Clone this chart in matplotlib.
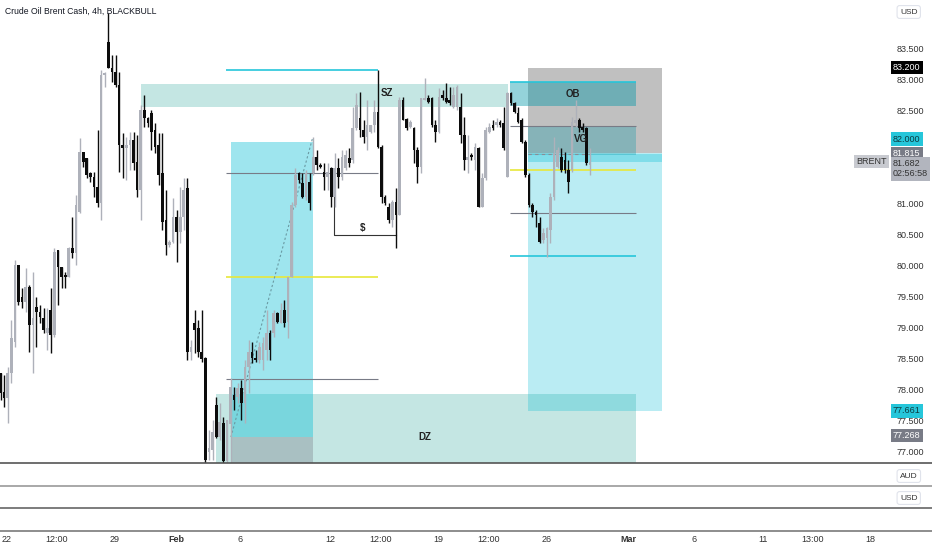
import numpy as np
import matplotlib.pyplot as plt
import matplotlib.transforms as mtransforms
from matplotlib.lines import Line2D
from matplotlib.patches import Rectangle

plt.rcParams['font.family'] = ['Liberation Sans Narrow', 'Liberation Sans', 'DejaVu Sans']

# 4h candles, Brent
opens = [78.27, 77.97, 77.87, 78.27, 78.77, 80.02, 79.50, 79.42, 79.66, 79.05,
         79.34, 79.26, 79.16, 78.92, 79.29, 78.89, 80.26, 79.98, 79.85, 79.82,
         80.29, 80.21, 80.87, 81.84, 81.74, 81.50, 81.44, 81.27, 81.02, 83.08,
         83.61, 83.19, 83.13, 82.92, 81.95, 81.90, 81.95, 82.03, 81.68, 81.23,
         82.52, 82.39, 82.47, 82.19, 81.95, 81.50, 80.74, 80.34, 80.39, 80.79,
         80.55, 80.79, 81.26, 78.61, 79.08, 79.00, 78.61, 78.52, 77.00, 77.03,
         77.76, 77.24, 77.47, 76.85, 77.45, 77.92, 77.89, 78.03, 77.79, 78.37,
         78.61, 78.52, 78.48, 78.48, 78.65, 78.92, 78.92, 79.24, 79.08, 79.29,
         79.10, 79.82, 80.98, 81.50, 81.34, 81.11, 81.35, 81.50, 81.76, 81.63,
         81.52, 81.44, 81.58, 81.11, 81.58, 81.44, 81.58, 81.74, 81.71, 82.23,
         82.39, 82.19, 82.08, 82.16, 82.27, 82.48, 81.92, 81.11, 80.95, 80.74,
         81.03, 80.82, 82.68, 82.37, 82.24, 82.23, 81.87, 81.60, 82.68, 82.71,
         82.71, 82.27, 82.16, 82.76, 82.71, 82.68, 82.56, 82.56, 82.56, 82.11,
         81.71, 81.79, 81.71, 81.90, 80.95, 81.42, 82.16, 82.27, 82.27, 82.32,
         82.31, 81.44, 82.79, 82.63, 82.47, 82.35, 82.00, 81.47, 80.98, 80.87,
         80.69, 80.42, 80.45, 80.58, 81.11, 81.60, 81.76, 81.71, 81.55, 81.55,
         82.31, 82.35, 82.24, 82.23, 81.63]
highs = [78.27, 78.24, 78.37, 79.13, 80.10, 80.02, 79.64, 79.97, 79.69, 79.90,
         79.50, 79.37, 79.32, 79.32, 79.64, 80.29, 80.26, 79.98, 79.90, 80.31,
         80.79, 81.14, 82.06, 81.84, 81.74, 81.52, 81.52, 82.19, 83.16, 83.13,
         84.08, 83.40, 83.40, 83.13, 82.14, 82.08, 82.16, 82.16, 82.11, 82.60,
         82.76, 82.40, 82.52, 82.31, 82.14, 82.14, 81.23, 80.42, 81.10, 80.90,
         81.27, 81.42, 81.42, 78.81, 79.29, 79.13, 79.29, 78.53, 77.35, 77.52,
         77.89, 77.79, 77.56, 77.52, 78.19, 78.05, 78.11, 78.16, 78.48, 78.81,
         78.77, 78.65, 78.77, 78.85, 79.29, 78.97, 79.29, 79.26, 79.40, 79.45,
         79.82, 81.03, 81.58, 81.52, 81.50, 81.55, 81.50, 82.08, 81.87, 81.66,
         81.66, 81.66, 81.60, 81.82, 81.74, 81.87, 81.87, 81.90, 82.56, 82.79,
         82.81, 82.35, 82.68, 82.27, 82.68, 83.16, 81.95, 81.14, 81.02, 81.06,
         81.26, 82.73, 82.73, 82.39, 82.35, 82.24, 81.92, 82.71, 83.03, 82.76,
         82.73, 82.35, 82.87, 82.84, 82.95, 82.89, 82.89, 82.92, 82.79, 82.40,
         82.11, 81.82, 81.98, 81.92, 81.50, 82.24, 82.31, 82.35, 82.39, 82.35,
         82.56, 82.81, 82.81, 82.65, 82.56, 82.39, 82.03, 81.50, 81.02, 80.90,
         80.79, 80.61, 80.63, 81.18, 82.08, 81.92, 81.90, 81.84, 81.71, 82.40,
         82.68, 82.39, 82.31, 82.24, 81.90]
lows = [77.84, 77.73, 77.47, 78.11, 78.69, 79.37, 79.32, 79.26, 78.61, 78.27,
        78.69, 79.08, 78.92, 78.64, 78.60, 78.85, 79.37, 79.64, 79.64, 79.82,
        80.13, 80.02, 80.85, 81.60, 81.42, 81.35, 81.11, 80.95, 80.74, 82.89,
        83.19, 82.97, 82.89, 81.52, 81.42, 81.39, 81.55, 81.55, 81.11, 80.74,
        82.24, 82.24, 81.87, 81.82, 81.31, 80.58, 80.18, 80.31, 80.37, 80.06,
        80.37, 80.58, 78.48, 78.48, 78.60, 78.53, 78.45, 76.82, 76.87, 76.87,
        77.23, 77.19, 76.80, 76.80, 76.80, 77.68, 77.79, 77.52, 77.47, 77.95,
        78.44, 78.45, 78.44, 78.32, 78.48, 78.48, 78.85, 79.08, 79.08, 79.02,
        78.84, 79.82, 80.95, 81.34, 81.10, 81.06, 80.90, 81.47, 81.55, 81.58,
        81.23, 81.23, 80.95, 80.95, 81.26, 81.39, 81.55, 81.60, 81.66, 82.19,
        82.08, 81.98, 81.87, 82.15, 82.16, 81.90, 81.02, 80.98, 80.69, 80.63,
        80.29, 80.82, 82.35, 82.19, 82.23, 81.66, 81.34, 81.50, 82.68, 82.63,
        82.24, 82.00, 82.15, 82.68, 82.63, 82.60, 82.55, 82.52, 81.98, 81.55,
        81.50, 81.71, 81.55, 80.95, 80.95, 81.39, 82.15, 82.19, 82.24, 82.24,
        81.87, 81.44, 82.60, 82.47, 82.31, 81.98, 81.44, 80.95, 80.79, 80.63,
        80.37, 80.37, 80.14, 80.37, 81.06, 81.58, 81.52, 81.50, 81.18, 81.52,
        82.24, 82.16, 82.16, 81.63, 81.47]
closes = [77.95, 77.87, 78.27, 78.84, 80.02, 79.42, 79.42, 79.66, 79.05, 79.16,
          79.26, 79.18, 78.97, 79.00, 78.89, 80.23, 79.98, 79.82, 79.82, 80.29,
          80.21, 80.98, 81.84, 81.68, 81.47, 81.44, 81.27, 81.02, 83.08, 83.11,
          83.19, 83.13, 82.92, 81.95, 81.90, 81.95, 82.03, 81.66, 81.23, 82.52,
          82.39, 82.31, 82.16, 81.92, 81.47, 80.71, 80.34, 80.39, 80.79, 80.55,
          80.79, 81.23, 78.61, 78.69, 78.97, 78.61, 78.50, 76.87, 77.06, 77.32,
          77.24, 77.48, 76.85, 77.52, 78.05, 77.84, 78.03, 77.79, 78.37, 78.61,
          78.52, 78.48, 78.69, 78.76, 78.92, 78.65, 79.24, 79.10, 79.29, 79.08,
          79.82, 80.98, 81.47, 81.39, 81.11, 81.50, 81.02, 81.76, 81.63, 81.60,
          81.44, 81.52, 81.11, 81.58, 81.44, 81.76, 81.79, 81.66, 82.23, 82.60,
          82.19, 82.08, 82.27, 82.27, 82.48, 81.92, 81.11, 81.02, 80.74, 81.03,
          80.82, 82.68, 82.35, 82.23, 82.32, 81.87, 81.60, 82.71, 82.71, 82.65,
          82.27, 82.16, 82.73, 82.71, 82.65, 82.63, 82.76, 82.89, 82.11, 81.71,
          81.76, 81.76, 81.92, 80.95, 81.42, 82.19, 82.24, 82.23, 82.32, 82.27,
          81.90, 82.79, 82.63, 82.48, 82.32, 82.00, 81.47, 80.98, 80.87, 80.82,
          80.39, 80.53, 80.61, 81.11, 81.82, 81.87, 81.55, 81.55, 81.35, 82.32,
          82.35, 82.23, 82.19, 81.66, 81.68]

# time axis labels (bar index positions)
tick_pos = [1.8, 15.7, 31.6, 48.8, 66.6, 91.7, 105.8, 121.7, 135.9, 152.0,
            174.8, 192.9, 212.1, 226.0, 241.9]
tick_lab = ['22', '12:00', '29', 'Feb', '6', '12', '12:00', '19', '12:00', '26',
            'Mar', '6', '11', '13:00', '18']
price_ticks = [77.0, 77.5, 78.0, 78.5, 79.0, 79.5, 80.0, 80.5, 81.0, 82.5, 83.0, 83.5]

# drawings
sz_zone = [39.1, 141.2, 82.56, 82.94]
dz_zone = [59.9, 176.8, 76.0, 77.94]
long_x = [64.1, 86.9]
long_entry, long_target = 77.24, 82.00
short_x = [146.7, 184.0]
short_stop, short_entry, short_target = 83.20, 81.815, 77.661
ob_zone = [141.7, 176.8, 82.58, 82.97]
fvg_zone = [146.7, 176.8, 81.79, 82.26]
left_x = [62.7, 105.0]
left_levels = [83.16, 81.50, 79.82, 78.18]
left_colors = ['#26c6da', '#787b86', '#e8e83a', '#787b86']
right_x = [141.7, 176.8]
right_levels = [82.97, 82.26, 81.55, 80.855, 80.16]
right_colors = ['#26c6da', '#787b86', '#e8e83a', '#787b86', '#26c6da']

o = np.array(opens); h = np.array(highs); l = np.array(lows); c = np.array(closes)
x = np.arange(len(o))

W, H = 932, 550
fig = plt.figure(figsize=(W / 100, H / 100), dpi=100)
aw = 888 / W
ax = fig.add_axes([0, 87 / H, aw, 463 / H])
p1 = fig.add_axes([0, 64 / H, aw, 23 / H], sharex=ax)
p2 = fig.add_axes([0, 42 / H, aw, 22 / H], sharex=ax)
p3 = fig.add_axes([0, 19 / H, aw, 23 / H], sharex=ax)

ax.set_xlim(-0.14, 246.9)
ax.set_ylim(76.822, 84.29)


def box(a, x0, x1, y0, y1, color, alpha, z=1):
    a.add_patch(Rectangle((x0, y0), x1 - x0, y1 - y0, fc=color, alpha=alpha, ec='none', zorder=z))


# zones
box(ax, sz_zone[0], sz_zone[1], sz_zone[2], sz_zone[3], '#26a69a', 0.27)
box(ax, dz_zone[0], dz_zone[1], dz_zone[2], dz_zone[3], '#26a69a', 0.27)
box(ax, long_x[0], long_x[1], long_entry, long_target, '#00bcd4', 0.38)
box(ax, long_x[0], long_x[1], 76.0, long_entry, '#787b86', 0.35)
box(ax, short_x[0], short_x[1], short_entry, short_stop, '#9e9e9e', 0.65)
box(ax, short_x[0], short_x[1], short_target, short_entry, '#00bcd4', 0.27)
box(ax, short_x[0], short_x[1], 81.68, 81.80, '#00bcd4', 0.3)
box(ax, ob_zone[0], ob_zone[1], ob_zone[2], ob_zone[3], '#0097a7', 0.42)
box(ax, fvg_zone[0], fvg_zone[1], fvg_zone[2], fvg_zone[3], '#0097a7', 0.3)

for lev, col in zip(left_levels, left_colors):
    ax.hlines(lev, left_x[0], left_x[1], colors=col, lw=1.2 if col != '#787b86' else 0.8, zorder=2)
for lev, col in zip(right_levels, right_colors):
    ax.hlines(lev, right_x[0], right_x[1], colors=col, lw=1.2 if col != '#787b86' else 0.8, zorder=2)

ax.plot([long_x[0], long_x[1]], [long_entry, 82.08], ls=(0, (2, 2)), color='#6a9aa3', lw=0.8, zorder=2)
ax.hlines(81.80, short_x[0], 164, colors='#8a8d96', lw=0.8, linestyles=(0, (3, 3)), zorder=2)
ax.plot([92.8, 92.8, 110.0], [81.50, 80.50, 80.50], color='#333333', lw=0.8, zorder=2)

# candles
up = c >= o
cols = np.where(up, '#aeb1ba', '#0c0c0c')
ax.vlines(x, l, h, colors=cols, lw=1.0, zorder=3)
ax.bar(x, np.maximum(np.abs(c - o), 0.03), bottom=np.minimum(o, c), width=0.74,
       color=cols, lw=0, zorder=4, antialiased=False)

lab = dict(fontsize=7, color='#222222', ha='center', va='center', zorder=6, fontweight='bold')
ax.text(107.5, 82.79, 'SZ', **lab)
ax.text(118.1, 77.24, 'DZ', **lab)
ax.text(159.2, 82.77, 'OB', **lab)
ax.text(161.5, 82.05, 'VG', **lab)
ax.text(100.8, 80.61, r'\$', **lab)

ax.text(0.006, 0.976, 'Crude Oil Brent Cash, 4h, BLACKBULL', transform=ax.transAxes,
        fontsize=6.2, color='#131722', ha='left', va='center')

# price axis
ax.yaxis.tick_right()
ax.set_yticks(price_ticks)
ax.set_yticklabels(['%.3f' % v for v in price_ticks])
ax.tick_params(axis='y', length=0, pad=6, labelsize=6.5, labelcolor='#333333')
ax.tick_params(axis='x', bottom=False, labelbottom=False)

tr = mtransforms.blended_transform_factory(ax.transAxes, ax.transData)
xt = 1.0 + 5 / 888


def tag(price, text, fc, tc):
    ax.text(xt, price, text, transform=tr, ha='left', va='center', fontsize=6.5, color=tc,
            bbox=dict(boxstyle='square,pad=0.25', fc=fc, ec='none'), zorder=10, clip_on=False)


tag(83.200, '83.200', '#000000', 'white')
tag(82.045, '82.000', '#26c6da', '#0d3a40')
tag(81.815, '81.815', '#787b86', 'white')
tag(81.57, '81.682\n02:56:58', '#b2b5be', '#333333')
tag(77.661, '77.661', '#26c6da', '#0d3a40')
tag(77.268, '77.268', '#787b86', 'white')
ax.text(0.999, 81.682, 'BRENT', transform=tr, ha='right', va='center', fontsize=6.5,
        color='#333333', bbox=dict(boxstyle='square,pad=0.25', fc='#c8cad0', ec='none'), zorder=10)

for a in [ax, p1, p2, p3]:
    for s in a.spines.values():
        s.set_visible(False)
for a in [p1, p2, p3]:
    a.set_yticks([])
    a.tick_params(axis='x', bottom=False, labelbottom=False)
p3.set_xticks(tick_pos)
p3.set_xticklabels(tick_lab)
p3.tick_params(axis='x', labelbottom=True, length=0, pad=3, labelsize=6.5, labelcolor='#333333')
for t in p3.get_xticklabels():
    if t.get_text() in ('Feb', 'Mar'):
        t.set_fontweight('bold')

# pane separators
for yy, col in [(463, '#555555'), (486, '#9a9a9a'), (508, '#666666'), (531, '#7a7a7a')]:
    fig.add_artist(Line2D([0, 1], [1 - yy / H] * 2, transform=fig.transFigure, color=col, lw=1.2))

btn = dict(boxstyle='round,pad=0.35,rounding_size=0.3', fc='white', ec='#e0e3eb', lw=0.8)
fig.text(900 / W, 1 - 12 / H, 'USD', fontsize=6, color='#333333', va='center', bbox=btn)
fig.text(900 / W, 1 - 476 / H, 'AUD', fontsize=6, color='#333333', va='center', bbox=btn)
fig.text(900 / W, 1 - 498 / H, 'USD', fontsize=6, color='#333333', va='center', bbox=btn)

fig.savefig('out.png', dpi=100)
